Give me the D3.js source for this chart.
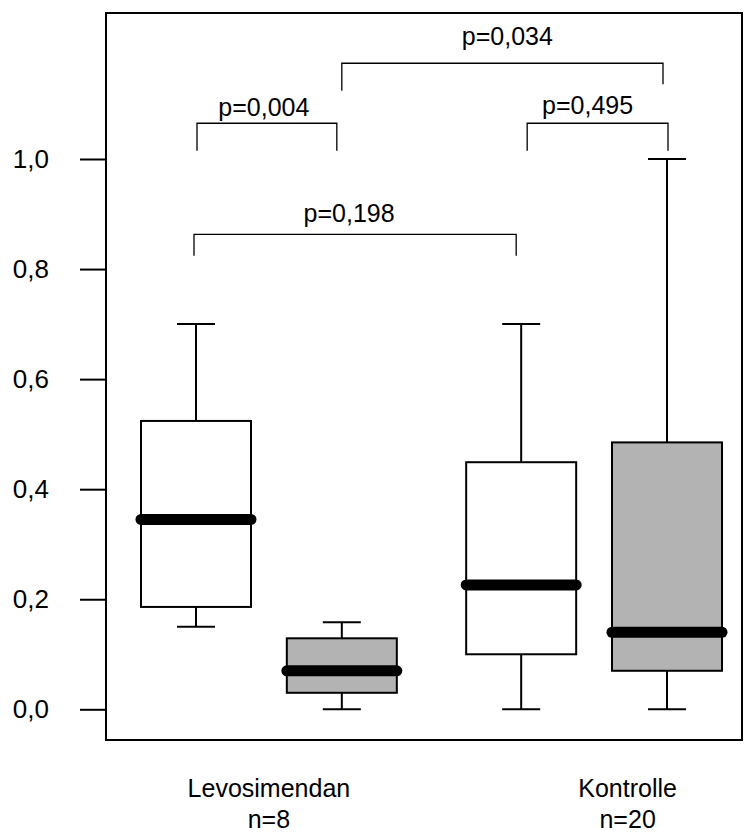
<!DOCTYPE html>
<html>
<head>
<meta charset="utf-8">
<script src="https://cdn.jsdelivr.net/npm/d3@7"></script>
<style>
  html, body { margin: 0; padding: 0; background: #fff; }
  svg { display: block; }
  text { font-family: "Liberation Sans", Arial, Helvetica, sans-serif; fill: #000; }
</style>
</head>
<body>
<svg id="chart" width="744" height="834"></svg>
<script>
// Box statistics per group (lower whisker, Q1, median, Q3, upper whisker)
const boxNames   = ["Levosimendan A", "Levosimendan B", "Kontrolle A", "Kontrolle B"];
const whiskerLow = [0.15, 0.00, 0.00, 0.00];
const q1         = [0.186, 0.03, 0.10, 0.07];
const medians    = [0.345, 0.07, 0.226, 0.14];
const q3         = [0.524, 0.129, 0.449, 0.485];
const whiskerHigh= [0.70, 0.158, 0.70, 1.00];
const boxFill    = ["#ffffff", "#b3b3b3", "#ffffff", "#b3b3b3"];

// Group labels on the x axis
const groupLabels = ["Levosimendan", "Kontrolle"];
const groupN      = ["n=8", "n=20"];

// Y axis ticks
const yTicks      = [0, 0.2, 0.4, 0.6, 0.8, 1.0];
const yTickLabels = ["0,0", "0,2", "0,4", "0,6", "0,8", "1,0"];

// Pairwise comparisons: boxes compared and p-value text
const compFrom   = [0, 0, 2, 1];
const compTo     = [1, 2, 3, 3];
const compLabels = ["p=0,004", "p=0,198", "p=0,495", "p=0,034"];

// Layout
const slots = [1, 2, 3.23, 4.23];               // horizontal slot of each box
const labelSlots = [1.5, 3.96];                  // horizontal slot of each group label
const plot = { left: 106, right: 742, top: 13, bottom: 740 };
const boxWidth = 110, capWidth = 38;
// bracket level, left/right drop ends (data units) and pixel nudges of the ends / label
const bracketLayout = [
  { level: 1.065, dropL: 1.015, dropR: 1.015, dxL: 1,  dxR: -5, tx: -3, ty: -7 },
  { level: 0.863, dropL: 0.824, dropR: 0.824, dxL: -2, dxR: -5, tx: -6, ty: -12 },
  { level: 1.065, dropL: 1.015, dropR: 1.015, dxL: 6,  dxR: 1,  tx: -10, ty: -9 },
  { level: 1.174, dropL: 1.124, dropR: 1.136, dxL: 0,  dxR: -4, tx: 5, ty: -18 }
];

const svg = d3.select("#chart");

const x = d3.scaleLinear().domain([1, 4.23]).range([196, 667]);
const y = d3.scaleLinear().domain([0, 1]).range([709.3, 159]);

// Frame
svg.append("rect")
  .attr("x", plot.left).attr("y", plot.top)
  .attr("width", plot.right - plot.left).attr("height", plot.bottom - plot.top)
  .attr("fill", "none").attr("stroke", "#000").attr("stroke-width", 2);

// Y axis ticks and labels
const yAxis = d3.axisLeft(y)
  .tickValues(yTicks)
  .tickSize(26)
  .tickPadding(31)
  .tickFormat((d, i) => yTickLabels[i]);
const gy = svg.append("g").attr("transform", `translate(${plot.left},0)`).call(yAxis);
gy.select(".domain").remove();
gy.selectAll(".tick line").attr("stroke", "#000").attr("stroke-width", 2);
gy.selectAll(".tick text")
  .attr("font-size", 26)
  .attr("font-family", "'Liberation Sans', Arial, sans-serif")
  .attr("fill", "#000");

// Boxes
const idx = d3.range(boxNames.length);
const g = svg.append("g");

// whiskers
g.selectAll(".whisk-lo").data(idx).join("line")
  .attr("x1", i => x(slots[i])).attr("x2", i => x(slots[i]))
  .attr("y1", i => y(q1[i])).attr("y2", i => y(whiskerLow[i]))
  .attr("stroke", "#000").attr("stroke-width", 2);
g.selectAll(".whisk-hi").data(idx).join("line")
  .attr("x1", i => x(slots[i])).attr("x2", i => x(slots[i]))
  .attr("y1", i => y(q3[i])).attr("y2", i => y(whiskerHigh[i]))
  .attr("stroke", "#000").attr("stroke-width", 2);
g.selectAll(".cap-lo").data(idx).join("line")
  .attr("x1", i => x(slots[i]) - capWidth / 2).attr("x2", i => x(slots[i]) + capWidth / 2)
  .attr("y1", i => y(whiskerLow[i])).attr("y2", i => y(whiskerLow[i]))
  .attr("stroke", "#000").attr("stroke-width", 2);
g.selectAll(".cap-hi").data(idx).join("line")
  .attr("x1", i => x(slots[i]) - capWidth / 2).attr("x2", i => x(slots[i]) + capWidth / 2)
  .attr("y1", i => y(whiskerHigh[i])).attr("y2", i => y(whiskerHigh[i]))
  .attr("stroke", "#000").attr("stroke-width", 2);

// boxes
g.selectAll(".box").data(idx).join("rect")
  .attr("x", i => x(slots[i]) - boxWidth / 2)
  .attr("width", boxWidth)
  .attr("y", i => y(q3[i]))
  .attr("height", i => y(q1[i]) - y(q3[i]))
  .attr("fill", i => boxFill[i])
  .attr("stroke", "#000").attr("stroke-width", 2);

// medians
g.selectAll(".median").data(idx).join("line")
  .attr("x1", i => x(slots[i]) - boxWidth / 2).attr("x2", i => x(slots[i]) + boxWidth / 2)
  .attr("y1", i => y(medians[i])).attr("y2", i => y(medians[i]))
  .attr("stroke", "#000").attr("stroke-width", 11).attr("stroke-linecap", "round");

// Comparison brackets
const bg = svg.append("g");
compLabels.forEach((lab, k) => {
  const L = bracketLayout[k];
  const xa = x(slots[compFrom[k]]) + L.dxL;
  const xb = x(slots[compTo[k]]) + L.dxR;
  bg.append("path")
    .attr("d", `M${xa},${y(L.dropL)} L${xa},${y(L.level)} L${xb},${y(L.level)} L${xb},${y(L.dropR)}`)
    .attr("fill", "none").attr("stroke", "#000").attr("stroke-width", 1.3);
  bg.append("text")
    .attr("x", (xa + xb) / 2 + L.tx)
    .attr("y", y(L.level) + L.ty)
    .attr("text-anchor", "middle")
    .attr("font-size", 25)
    .text(lab);
});

// Group labels below the plot
const lg = svg.append("g");
groupLabels.forEach((lab, k) => {
  const cx = x(labelSlots[k]);
  lg.append("text").attr("x", cx).attr("y", 797)
    .attr("text-anchor", "middle").attr("font-size", 25).text(lab);
  lg.append("text").attr("x", cx).attr("y", 828)
    .attr("text-anchor", "middle").attr("font-size", 25).text(groupN[k]);
});
</script>
</body>
</html>
